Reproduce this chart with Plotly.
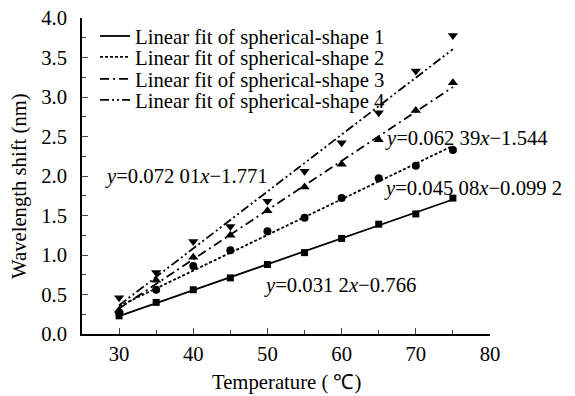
import numpy as np
import plotly.graph_objects as go

temperature = [30, 35, 40, 45, 50, 55, 60, 65, 70, 75]
shape1 = [0.23, 0.40, 0.56, 0.71, 0.88, 1.03, 1.21, 1.39, 1.52, 1.72]
shape2 = [0.27, 0.56, 0.86, 1.06, 1.30, 1.47, 1.72, 1.97, 2.13, 2.33]
shape3 = [0.30, 0.68, 0.97, 1.25, 1.56, 1.86, 2.15, 2.46, 2.83, 3.18]
shape4 = [0.46, 0.78, 1.17, 1.36, 1.68, 2.06, 2.42, 2.80, 3.33, 3.78]
names = ["Linear fit of spherical-shape 1", "Linear fit of spherical-shape 2",
         "Linear fit of spherical-shape 3", "Linear fit of spherical-shape 4"]
equations = ["<i>y</i>=0.031 2<i>x</i>−0.766", "<i>y</i>=0.045 08<i>x</i>−0.099 2",
             "<i>y</i>=0.062 39<i>x</i>−1.544", "<i>y</i>=0.072 01<i>x</i>−1.771"]
eq_pos = [(49.3, 0.62), (65.4, 1.84), (65.6, 2.47), (27.8, 2.0)]
x_ticks = [30, 40, 50, 60, 70, 80]
x_title = "Temperature ( ℃)"
y_title = "Wavelength shift (nm)"

FONT = "Liberation Serif"
FS = 20.7
series = [shape1, shape2, shape3, shape4]
symbols = ["square", "circle", "triangle-up", "triangle-down"]
msizes = [7, 8, 9, 9]
dashes = ["solid", "3px,2px", "9px,4px,2px,4px", "9px,3px,2px,3px,2px,3px"]
legend_ids = ["legend", "legend2", "legend3", "legend4"]
legend_y = [0.943, 0.877, 0.807, 0.741]

fig = go.Figure()
xs = np.array(temperature, dtype=float)
for i, ys in enumerate(series):
    k, b = np.polyfit(xs, np.array(ys), 1)
    xf = np.array([xs.min(), xs.max()])
    fig.add_trace(go.Scatter(x=xf, y=k * xf + b, mode="lines", name=names[i], legend=legend_ids[i],
                             line=dict(color="black", width=1.8, dash=dashes[i])))
for i, ys in enumerate(series):
    fig.add_trace(go.Scatter(x=temperature, y=ys, mode="markers", showlegend=False,
                             marker=dict(symbol=symbols[i], size=msizes[i], color="black")))

for (ex, ey), txt in zip(eq_pos, equations):
    fig.add_annotation(x=ex, y=ey, text=txt, showarrow=False, xanchor="left", yanchor="middle",
                       font=dict(family=FONT, size=FS, color="black"))

# axis titles as paper-anchored annotations
fig.add_annotation(x=0.5, y=-0.154, xref="paper", yref="paper", text=x_title, showarrow=False,
                   xanchor="center", yanchor="middle", font=dict(family=FONT, size=FS, color="black"))
fig.add_annotation(x=-0.152, y=0.4686, xref="paper", yref="paper", text=y_title, showarrow=False,
                   textangle=-90, xanchor="center", yanchor="middle",
                   font=dict(family=FONT, size=FS, color="black"))

legends = {}
for lid, ly in zip(legend_ids, legend_y):
    legends[lid] = dict(x=0.032, y=ly, xanchor="left", yanchor="middle", bgcolor="rgba(0,0,0,0)",
                        font=dict(family=FONT, size=FS), itemwidth=30)

fig.update_layout(
    width=575, height=396, margin=dict(l=82, r=85, t=18, b=62, autoexpand=False),
    paper_bgcolor="white", plot_bgcolor="white",
    font=dict(family=FONT, size=FS, color="black"),
    showlegend=True,
    **legends,
)
fig.update_xaxes(range=[25, 80], tickvals=x_ticks, ticks="inside", ticklen=6, tickwidth=1.2,
                 showline=True, linecolor="black", linewidth=1.5, showgrid=False, zeroline=False,
                 automargin=False, ticklabeloverflow="allow",
                 minor=dict(dtick=5, tick0=25, ticks="inside", ticklen=4, tickwidth=1.2, showgrid=False),
                 tickfont=dict(family=FONT, size=FS))
fig.update_yaxes(range=[0, 4.0], dtick=0.5, tickformat=".1f", ticks="inside", ticklen=6, tickwidth=1.2,
                 showline=True, linecolor="black", linewidth=1.5, showgrid=False, zeroline=False,
                 automargin=False, ticklabeloverflow="allow", ticklabelstandoff=9,
                 minor=dict(dtick=0.25, ticks="inside", ticklen=4, tickwidth=1.2, showgrid=False),
                 tickfont=dict(family=FONT, size=FS))

fig.write_html("out.html", config={"displayModeBar": False},
               post_script="document.body.style.margin='0';")
